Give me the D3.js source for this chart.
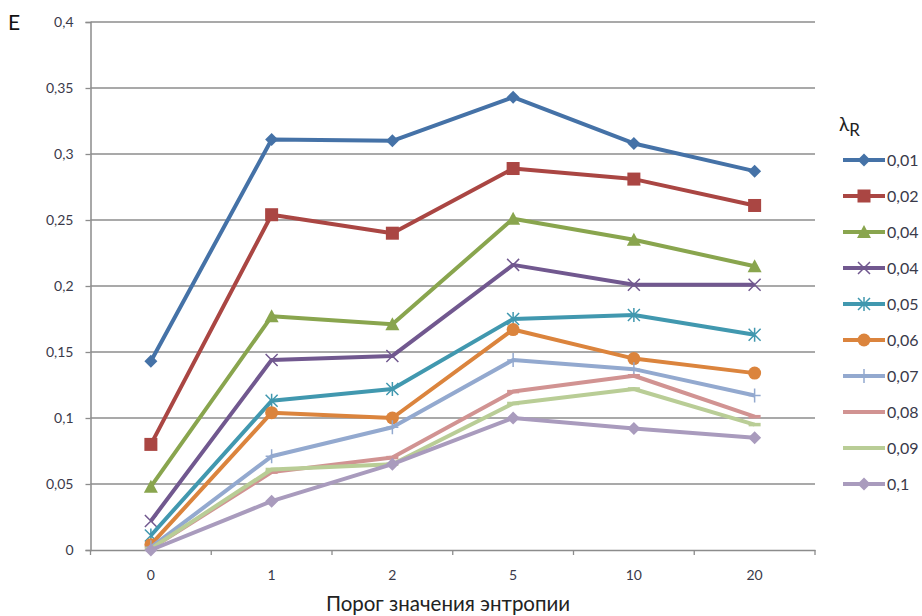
<!DOCTYPE html>
<html><head><meta charset="utf-8">
<script src="https://cdn.jsdelivr.net/npm/d3@7"></script>
<style>
body{margin:0;background:#fff;}
text{font-family:Lato,"Open Sans",sans-serif;}
</style></head>
<body><svg id="c" width="922" height="616"></svg>
<script>
const categories = ["0","1","2","5","10","20"];
const seriesNames = ["0,01","0,02","0,04","0,04","0,05","0,06","0,07","0,08","0,09","0,1"];
const s001 = [0.143,0.311,0.310,0.343,0.308,0.287];
const s002 = [0.080,0.254,0.240,0.289,0.281,0.261];
const s004a = [0.048,0.177,0.171,0.251,0.235,0.215];
const s004b = [0.022,0.144,0.147,0.216,0.201,0.201];
const s005 = [0.011,0.113,0.122,0.175,0.178,0.163];
const s006 = [0.004,0.104,0.100,0.167,0.145,0.134];
const s007 = [0.002,0.071,0.093,0.144,0.137,0.117];
const s008 = [0.001,0.059,0.070,0.120,0.132,0.101];
const s009 = [0.001,0.061,0.065,0.111,0.122,0.095];
const s010 = [0.000,0.037,0.065,0.100,0.092,0.085];
const yTicks = [0,0.05,0.1,0.15,0.2,0.25,0.3,0.35,0.4];

const seriesValues = [s001,s002,s004a,s004b,s005,s006,s007,s008,s009,s010];
const colors = ["#4572A7","#AA4643","#89A54E","#71588F","#4198AF","#DB843D","#93A9CF","#D19392","#B9CD96","#A99BBD"];
const markers = ["diamond","square","triangle","x","star","circle","plus","dash","dash","diamond"];

const svg = d3.select("#c");
const L=90.5, R=815, T=22, B=550;
const x = d3.scaleBand().domain(categories).range([L,R]);
const y = d3.scaleLinear().domain([0,0.4]).range([B,T]);
const fmt = v => String(v).replace(".",",");

// gridlines
svg.append("g").selectAll("line").data(yTicks.filter(d=>d>0)).join("line")
  .attr("x1",L).attr("x2",R).attr("y1",d=>y(d)).attr("y2",d=>y(d))
  .attr("stroke","#8c8c8c").attr("stroke-width",1.3);

// y axis
const ya = svg.append("g").attr("transform",`translate(${L},0)`)
  .call(d3.axisLeft(y).tickValues(yTicks).tickFormat(fmt).tickSize(5).tickPadding(12));
ya.select(".domain").attr("stroke","#8c8c8c").attr("stroke-width",1.5);
ya.selectAll(".tick line").attr("stroke","#8c8c8c").attr("stroke-width",1.3);
ya.selectAll(".tick text").attr("font-size",14).attr("fill","#3a3a4a").attr("font-family","Lato,sans-serif");

// x axis
const xa = svg.append("g").attr("transform",`translate(0,${B})`)
  .call(d3.axisBottom(x).tickSize(0).tickPadding(20));
xa.select(".domain").attr("stroke","#8c8c8c").attr("stroke-width",1.5);
xa.selectAll(".tick text").attr("font-size",14).attr("fill","#3a3a4a").attr("font-family","Lato,sans-serif");
const bounds = categories.map(c=>x(c)).concat([R]);
svg.append("g").selectAll("line").data(bounds).join("line")
  .attr("x1",d=>d).attr("x2",d=>d).attr("y1",B).attr("y2",B+5)
  .attr("stroke","#8c8c8c").attr("stroke-width",1.3);

svg.append("text").attr("x",448).attr("y",611).attr("text-anchor","middle")
  .attr("font-size",20.5).attr("fill","#222").text("Порог значения энтропии");
svg.append("text").attr("x",8).attr("y",30).attr("font-size",21).attr("fill","#111").text("E");

function drawMarker(g, type, cx, cy, color){
  const s = 5.5;
  if(type==="diamond"){
    g.append("path").attr("d",`M${cx},${cy-s-1}L${cx+s+1},${cy}L${cx},${cy+s+1}L${cx-s-1},${cy}Z`).attr("fill",color);
  } else if(type==="square"){
    g.append("rect").attr("x",cx-6.5).attr("y",cy-6.5).attr("width",13).attr("height",13).attr("fill",color);
  } else if(type==="triangle"){
    g.append("path").attr("d",`M${cx},${cy-7}L${cx+7},${cy+6}L${cx-7},${cy+6}Z`).attr("fill",color);
  } else if(type==="circle"){
    g.append("circle").attr("cx",cx).attr("cy",cy).attr("r",6.5).attr("fill",color);
  } else if(type==="x"){
    g.append("path").attr("d",`M${cx-6},${cy-6}L${cx+6},${cy+6}M${cx-6},${cy+6}L${cx+6},${cy-6}`).attr("stroke",color).attr("stroke-width",1.5);
  } else if(type==="star"){
    g.append("path").attr("d",`M${cx-6},${cy-6}L${cx+6},${cy+6}M${cx-6},${cy+6}L${cx+6},${cy-6}M${cx},${cy-7}L${cx},${cy+7}`).attr("stroke",color).attr("stroke-width",1.5);
  } else if(type==="plus"){
    g.append("path").attr("d",`M${cx-6},${cy}L${cx+6},${cy}M${cx},${cy-7}L${cx},${cy+7}`).attr("stroke",color).attr("stroke-width",1.5);
  } else if(type==="dash"){
    g.append("path").attr("d",`M${cx-6},${cy}L${cx+6},${cy}`).attr("stroke",color).attr("stroke-width",3.5);
  }
}

const line = d3.line().x((d,i)=>x(categories[i])+x.bandwidth()/2).y(d=>y(d));
const plot = svg.append("g");
seriesValues.forEach((vals,si)=>{
  const g = plot.append("g");
  g.append("path").attr("d",line(vals)).attr("fill","none").attr("stroke",colors[si])
    .attr("stroke-width",4).attr("stroke-linejoin","round");
  vals.forEach((v,i)=>drawMarker(g, markers[si], x(categories[i])+x.bandwidth()/2, y(v), colors[si]));
});

// legend
const lg = svg.append("g");
const lt = lg.append("text").attr("x",839).attr("y",131).attr("fill","#222");
lt.append("tspan").attr("font-size",19).text("λ");
lt.append("tspan").attr("font-size",17).attr("dy",5).text("R");
seriesNames.forEach((n,i)=>{
  const yy = 160 + i*36;
  lg.append("line").attr("x1",843).attr("x2",885).attr("y1",yy).attr("y2",yy)
    .attr("stroke",colors[i]).attr("stroke-width",4);
  drawMarker(lg, markers[i], 864, yy, colors[i]);
  lg.append("text").attr("x",887).attr("y",yy+5.5).attr("font-size",16).attr("fill","#3a3a4a").text(n);
});
</script></body></html>
